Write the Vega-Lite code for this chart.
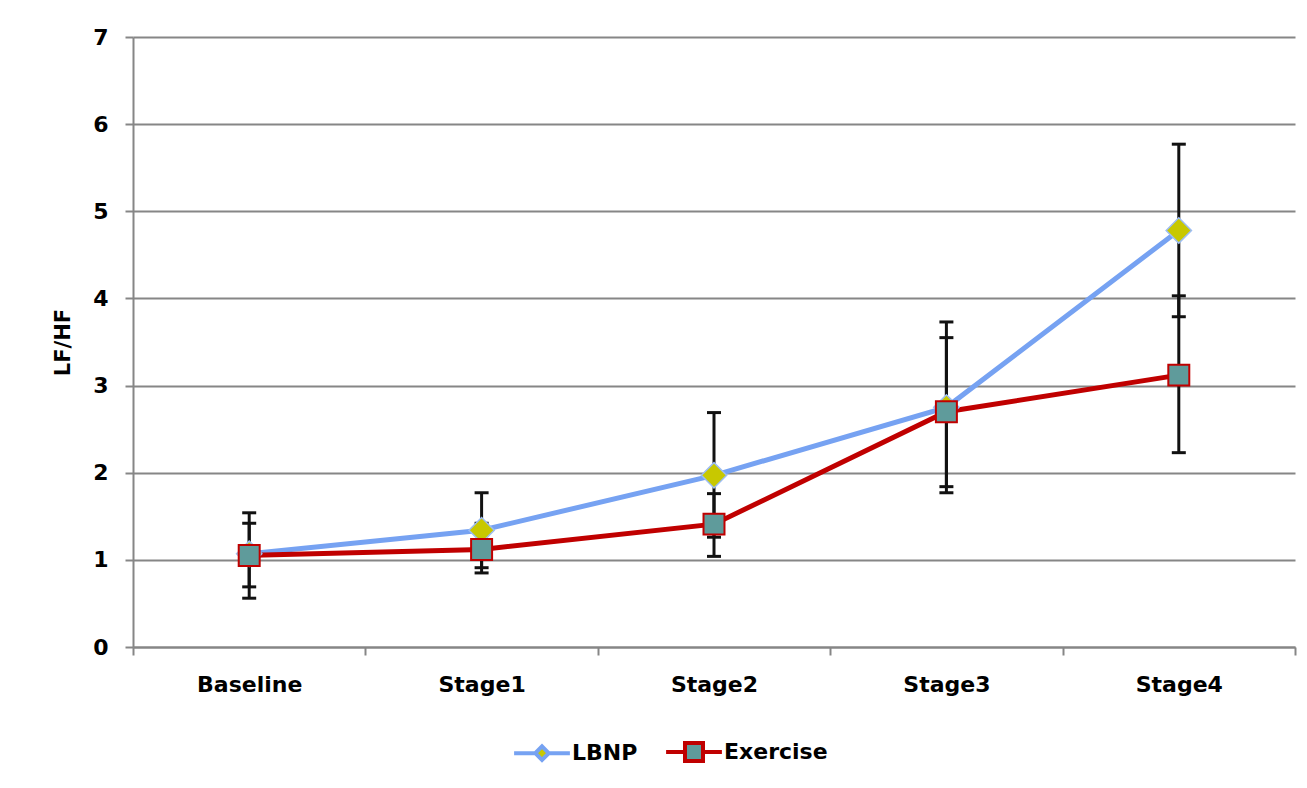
{
  "$schema": "https://vega.github.io/schema/vega-lite/v6.json",
  "width": 1162,
  "height": 610,
  "autosize": {"type": "none"},
  "padding": {"left": 133, "top": 37, "right": 12, "bottom": 141},
  "background": "white",
  "datasets": {
    "main": [
      {"stage": "Baseline", "series": "LBNP", "mean": 1.07, "lo": 0.56, "hi": 1.54},
      {"stage": "Stage1", "series": "LBNP", "mean": 1.34, "lo": 0.91, "hi": 1.77},
      {"stage": "Stage2", "series": "LBNP", "mean": 1.97, "lo": 1.26, "hi": 2.69},
      {"stage": "Stage3", "series": "LBNP", "mean": 2.75, "lo": 1.77, "hi": 3.73},
      {"stage": "Stage4", "series": "LBNP", "mean": 4.78, "lo": 3.79, "hi": 5.77},
      {"stage": "Baseline", "series": "Exercise", "mean": 1.05, "lo": 0.69, "hi": 1.42},
      {"stage": "Stage1", "series": "Exercise", "mean": 1.12, "lo": 0.85, "hi": 1.42},
      {"stage": "Stage2", "series": "Exercise", "mean": 1.41, "lo": 1.04, "hi": 1.76},
      {"stage": "Stage3", "series": "Exercise", "mean": 2.7, "lo": 1.84, "hi": 3.55},
      {"stage": "Stage4", "series": "Exercise", "mean": 3.12, "lo": 2.23, "hi": 4.03}
    ]
  },
  "config": {
    "view": {"stroke": null},
    "font": "DejaVu Sans",
    "axis": {
      "domainColor": "#868686", "domainWidth": 2,
      "tickColor": "#868686", "tickWidth": 2,
      "gridColor": "#868686", "gridWidth": 2,
      "labelFont": "DejaVu Sans", "labelFontWeight": "bold", "labelFontSize": 22, "labelColor": "black",
      "titleFont": "DejaVu Sans", "titleFontWeight": "bold", "titleFontSize": 21, "titleColor": "black"
    },
    "axisX": {"grid": false, "tickBand": "extent", "tickSize": 8, "labelPadding": 19, "labelAngle": 0},
    "axisY": {"grid": true, "tickSize": 8, "labelPadding": 17, "titlePadding": 19, "tickCount": 7}
  },
  "layer": [
    {
      "data": {"name": "main"},
      "mark": {"type": "rule", "color": "#111111", "strokeWidth": 3},
      "encoding": {
        "x": {"field": "stage", "type": "nominal", "sort": ["Baseline", "Stage1", "Stage2", "Stage3", "Stage4"], "scale": {"type": "band", "paddingInner": 0, "paddingOuter": 0}, "title": null},
        "y": {"field": "lo", "type": "quantitative", "scale": {"domain": [0, 7], "nice": false}, "title": "LF/HF"},
        "y2": {"field": "hi"}
      }
    },
    {
      "data": {"name": "main"},
      "mark": {"type": "tick", "color": "#111111", "size": 14, "thickness": 3, "opacity": 1},
      "encoding": {
        "x": {"field": "stage", "type": "nominal", "sort": ["Baseline", "Stage1", "Stage2", "Stage3", "Stage4"], "scale": {"type": "band", "paddingInner": 0, "paddingOuter": 0}, "title": null},
        "y": {"field": "lo", "type": "quantitative", "scale": {"domain": [0, 7], "nice": false}, "title": "LF/HF"}
      }
    },
    {
      "data": {"name": "main"},
      "mark": {"type": "tick", "color": "#111111", "size": 14, "thickness": 3, "opacity": 1},
      "encoding": {
        "x": {"field": "stage", "type": "nominal", "sort": ["Baseline", "Stage1", "Stage2", "Stage3", "Stage4"], "scale": {"type": "band", "paddingInner": 0, "paddingOuter": 0}, "title": null},
        "y": {"field": "hi", "type": "quantitative", "scale": {"domain": [0, 7], "nice": false}, "title": "LF/HF"}
      }
    },
    {
      "data": {"name": "main"},
      "mark": {"type": "line", "strokeWidth": 5},
      "encoding": {
        "x": {"field": "stage", "type": "nominal", "sort": ["Baseline", "Stage1", "Stage2", "Stage3", "Stage4"], "scale": {"type": "band", "paddingInner": 0, "paddingOuter": 0}, "title": null},
        "y": {"field": "mean", "type": "quantitative", "scale": {"domain": [0, 7], "nice": false}, "title": "LF/HF"},
        "color": {"field": "series", "type": "nominal", "scale": {"domain": ["LBNP", "Exercise"], "range": ["#76a2f2", "#c00000"]},
          "legend": {
            "title": null, "orient": "none", "legendX": 398, "legendY": 704, "direction": "horizontal",
            "labelFont": "DejaVu Sans", "labelFontSize": 22, "labelFontWeight": "bold", "labelColor": "black",
            "symbolSize": 324, "symbolStrokeWidth": 4, "labelOffset": 19, "columnPadding": 20, "padding": 0,
            "symbolType": "M-3.1,0L-0.75,0L0,-0.75L0.75,0L0,0.75L-0.75,0M0.75,0L3.1,0",
            "encoding": {
              "symbols": {
                "fill": {"value": {"expr": "datum.value === 'LBNP' ? '#c8c800' : '#5f9b9b'"}},
                "shape": {"value": {"expr": "datum.value === 'LBNP' ? 'M-3.1,0L-0.75,0L0,-0.75L0.75,0L0,0.75L-0.75,0M0.75,0L3.1,0' : 'M-3.1,0L-1,0L-1,-1L1,-1L1,1L-1,1L-1,0M1,0L3.1,0'"}}
              }
            }
          }}
      }
    },
    {
      "data": {"name": "main"},
      "transform": [{"filter": "datum.series === 'LBNP'"}],
      "mark": {"type": "point", "shape": "diamond", "filled": true, "fill": "#c8c800", "stroke": "#9dbdf2", "strokeWidth": 1.5, "size": 640, "opacity": 1},
      "encoding": {
        "x": {"field": "stage", "type": "nominal", "sort": ["Baseline", "Stage1", "Stage2", "Stage3", "Stage4"], "scale": {"type": "band", "paddingInner": 0, "paddingOuter": 0}, "title": null},
        "y": {"field": "mean", "type": "quantitative", "scale": {"domain": [0, 7], "nice": false}, "title": "LF/HF"}
      }
    },
    {
      "data": {"name": "main"},
      "transform": [{"filter": "datum.series === 'Exercise'"}],
      "mark": {"type": "point", "shape": "square", "filled": true, "fill": "#5f9b9b", "stroke": "#c00000", "strokeWidth": 2, "size": 440, "opacity": 1},
      "encoding": {
        "x": {"field": "stage", "type": "nominal", "sort": ["Baseline", "Stage1", "Stage2", "Stage3", "Stage4"], "scale": {"type": "band", "paddingInner": 0, "paddingOuter": 0}, "title": null},
        "y": {"field": "mean", "type": "quantitative", "scale": {"domain": [0, 7], "nice": false}, "title": "LF/HF"}
      }
    }
  ]
}
